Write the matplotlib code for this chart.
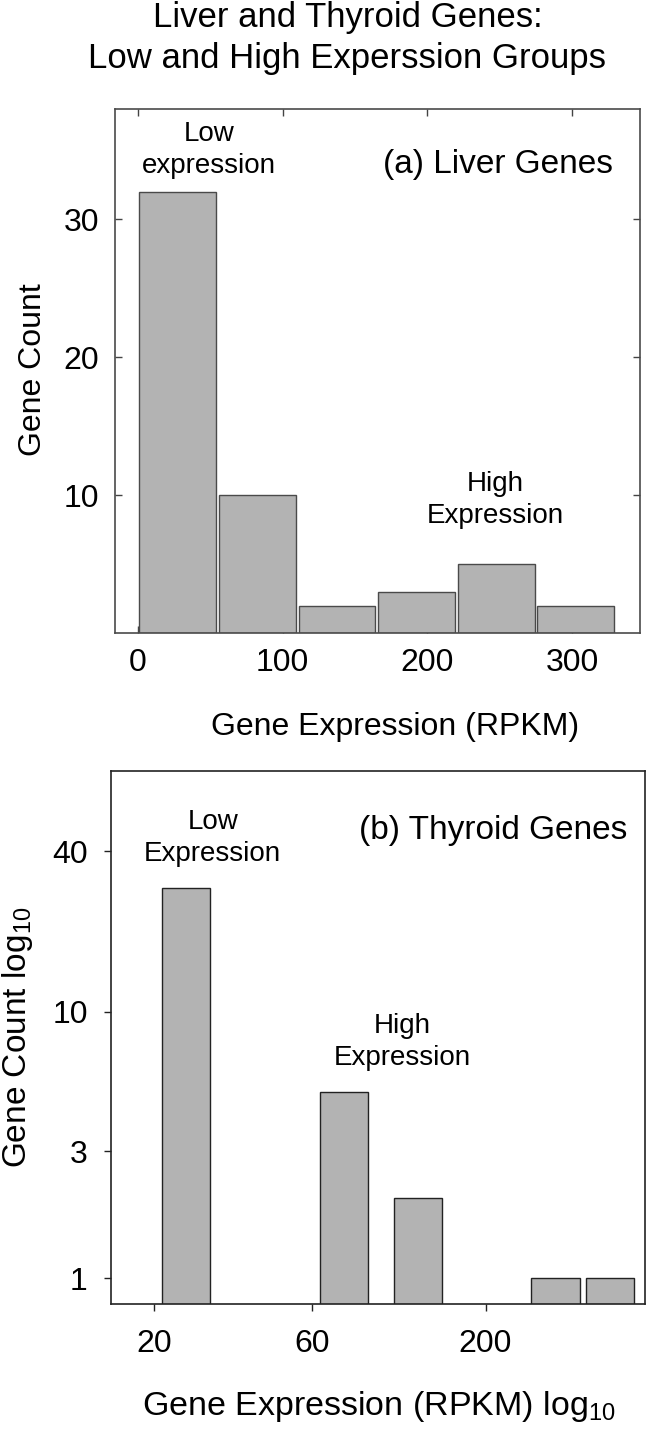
import numpy as np
import matplotlib
matplotlib.use('Agg')
import matplotlib.pyplot as plt

plt.rcParams['font.family'] = ['Liberation Sans', 'DejaVu Sans']
plt.rcParams['mathtext.fontset'] = 'custom'
plt.rcParams['mathtext.rm'] = 'Liberation Sans'

# (a) liver genes, linear bins of 55 RPKM
liver_centers = [27.5, 82.5, 137.5, 192.5, 247.5, 302.5]
liver_counts = [32, 10, 2, 3, 5, 2]
liver_bin_width = 55

# (b) thyroid genes, bin centres in RPKM, plotted on log axes
thyroid_centers = [25, 75, 125, 325, 475]
thyroid_counts = [29, 5, 2, 1, 1]

liver_xticks = [0, 100, 200, 300]
liver_yticks = [10, 20, 30]
thyroid_xticks = [20, 60, 200]
thyroid_yticks = [1, 3, 10, 40]

bar_color = '#b3b3b3'
fs_tick = 23
fs_lab = 23
fs_panel = 24
fs_note = 20

fig = plt.figure(figsize=(6.48, 14.33), dpi=100)
fig.text(0.536, 0.999, 'Liver and Thyroid Genes:\nLow and High Experssion Groups',
         ha='center', va='top', fontsize=25, linespacing=1.3)

# ---- (a) Liver
ax1 = fig.add_axes([0.177, 0.558, 0.811, 0.366])
ax1.bar(liver_centers, liver_counts, width=liver_bin_width - 2, color=bar_color,
        edgecolor='#4a4a4a', linewidth=1.0, zorder=2)
ax1.set_xlim(-16, 347)
ax1.set_ylim(0, 38)
ax1.set_xticks(liver_xticks)
ax1.set_yticks(liver_yticks)
ax1.tick_params(direction='in', top=True, right=True, length=5, width=1,
                labelsize=fs_tick, color='#444444')
ax1.tick_params(axis='x', pad=10.5)
ax1.tick_params(axis='y', pad=11)
for s in ax1.spines.values():
    s.set_color('#4a4a4a')
    s.set_linewidth(1.2)
ax1.set_ylabel('Gene Count', fontsize=fs_lab)
ax1.yaxis.set_label_coords(-0.126, 0.502)
ax1.set_xlabel('Gene Expression (RPKM)', fontsize=fs_lab)
ax1.xaxis.set_label_coords(0.534, -0.150)
ax1.text(0.180, 0.922, 'Low\nexpression', transform=ax1.transAxes,
         ha='center', va='center', fontsize=fs_note, linespacing=1.3)
ax1.text(0.949, 0.894, '(a) Liver Genes', transform=ax1.transAxes,
         ha='right', va='center', fontsize=fs_panel)
ax1.text(0.724, 0.254, 'High\nExpression', transform=ax1.transAxes,
         ha='center', va='center', fontsize=fs_note, linespacing=1.3)

# ---- (b) Thyroid, log-log
ax2 = fig.add_axes([0.172, 0.090, 0.823, 0.372])
c = np.array(thyroid_centers, dtype=float)
f = 10 ** 0.0727
ax2.bar(c / f, thyroid_counts, width=c * f - c / f, align='edge', color=bar_color,
        edgecolor='#222222', linewidth=1.0, zorder=2)
ax2.set_xscale('log')
ax2.set_yscale('log')
ax2.set_xlim(14.9, 604)
ax2.set_ylim(0.8, 80)
ax2.set_xticks(thyroid_xticks)
ax2.set_xticklabels([str(t) for t in thyroid_xticks])
ax2.set_yticks(thyroid_yticks)
ax2.set_yticklabels([str(t) for t in thyroid_yticks])
ax2.minorticks_off()
ax2.tick_params(direction='out', length=5, width=1, labelsize=fs_tick, color='#222222')
ax2.tick_params(axis='x', pad=13)
ax2.tick_params(axis='y', pad=12)
for s in ax2.spines.values():
    s.set_color('#222222')
    s.set_linewidth(1.2)
ax2.set_ylabel('Gene Count log$_{10}$', fontsize=24)
ax2.yaxis.set_label_coords(-0.143, 0.50)
ax2.set_xlabel('Gene Expression (RPKM) log$_{10}$', fontsize=24.5)
ax2.xaxis.set_label_coords(0.501, -0.160)
ax2.text(0.190, 0.874, 'Low\nExpression', transform=ax2.transAxes,
         ha='center', va='center', fontsize=fs_note, linespacing=1.3)
ax2.text(0.968, 0.889, '(b) Thyroid Genes', transform=ax2.transAxes,
         ha='right', va='center', fontsize=fs_panel)
ax2.text(0.546, 0.492, 'High\nExpression', transform=ax2.transAxes,
         ha='center', va='center', fontsize=fs_note, linespacing=1.3)

fig.savefig('out.png', dpi=100)
